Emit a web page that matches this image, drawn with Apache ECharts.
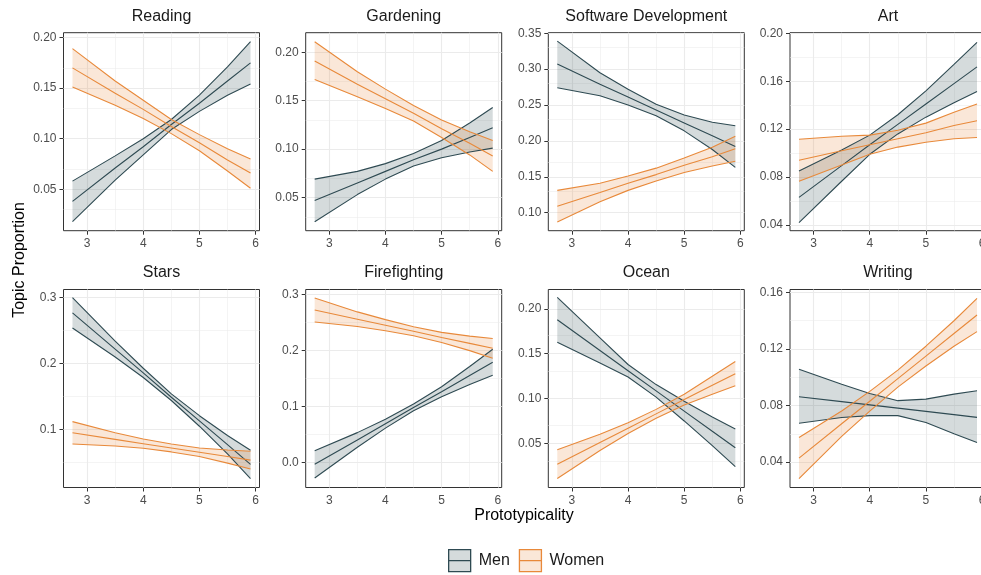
<!DOCTYPE html>
<html><head><meta charset="utf-8">
<script src="https://cdn.jsdelivr.net/npm/echarts@6/dist/echarts.min.js"></script>
<style>html,body{margin:0;padding:0;background:#fff}#c{width:981px;height:575px}</style>
</head><body><div id="c"></div>
<script>
// ---- data ----
const topics = ['Reading','Gardening','Software Development','Art','Stars','Firefighting','Ocean','Writing'];
const xs = [2.74, 3.5, 4.0, 4.5, 5.0, 5.5, 5.91];
const xTicks = [3, 4, 5, 6];
const xMinor = [3.5, 4.5, 5.5];
const xRange = [2.58, 6.07];

const menLow = [
  [0.018, 0.059, 0.084, 0.109, 0.127, 0.143, 0.154],
  [0.025, 0.053, 0.069, 0.0825, 0.091, 0.097, 0.101],
  [0.274, 0.263, 0.250, 0.235, 0.214, 0.188, 0.163],
  [0.042, 0.0765, 0.099, 0.116, 0.130, 0.142, 0.1515],
  [0.254, 0.210, 0.179, 0.144, 0.105, 0.063, 0.0255],
  [-0.028, 0.027, 0.061, 0.092, 0.117, 0.139, 0.1554],
  [0.1628, 0.1396, 0.124, 0.1016, 0.0751, 0.0476, 0.0242],
  [0.0674, 0.0715, 0.0728, 0.0728, 0.068, 0.060, 0.0538]
];
const menMean = [
  [0.038, 0.071, 0.092, 0.114, 0.135, 0.157, 0.175],
  [0.047, 0.065, 0.077, 0.089, 0.100, 0.112, 0.122],
  [0.307, 0.279, 0.261, 0.243, 0.225, 0.207, 0.192],
  [0.063, 0.0895, 0.107, 0.124, 0.141, 0.158, 0.172],
  [0.277, 0.222, 0.186, 0.149, 0.113, 0.077, 0.047],
  [-0.0036, 0.040, 0.069, 0.098, 0.126, 0.155, 0.1786],
  [0.1878, 0.1536, 0.131, 0.1086, 0.0861, 0.0636, 0.0452],
  [0.0862, 0.0827, 0.0804, 0.0781, 0.0758, 0.0735, 0.0716]
];
const menHigh = [
  [0.058, 0.083, 0.100, 0.119, 0.143, 0.171, 0.196],
  [0.069, 0.077, 0.085, 0.0955, 0.109, 0.127, 0.143],
  [0.339, 0.295, 0.272, 0.251, 0.236, 0.226, 0.221],
  [0.085, 0.1025, 0.115, 0.132, 0.152, 0.174, 0.1925],
  [0.300, 0.234, 0.193, 0.154, 0.121, 0.091, 0.0685],
  [0.0208, 0.053, 0.077, 0.104, 0.135, 0.171, 0.2018],
  [0.2128, 0.1676, 0.138, 0.1156, 0.0971, 0.0796, 0.0662],
  [0.1056, 0.095, 0.0885, 0.0834, 0.0845, 0.088, 0.0904]
];
const womenLow = [
  [0.151, 0.133, 0.120, 0.105, 0.088, 0.068, 0.051],
  [0.172, 0.154, 0.142, 0.129, 0.112, 0.094, 0.077],
  [0.087, 0.115, 0.131, 0.144, 0.156, 0.165, 0.1715],
  [0.0765, 0.090, 0.099, 0.105, 0.109, 0.112, 0.113],
  [0.078, 0.075, 0.0715, 0.066, 0.059, 0.049, 0.040],
  [0.2505, 0.2426, 0.2348, 0.226, 0.214, 0.1994, 0.186],
  [0.011, 0.0422, 0.0611, 0.078, 0.0929, 0.1048, 0.1142],
  [0.0282, 0.0581, 0.076, 0.093, 0.1079, 0.1219, 0.1322]
];
const womenMean = [
  [0.170, 0.145, 0.129, 0.112, 0.096, 0.079, 0.066],
  [0.191, 0.167, 0.152, 0.137, 0.121, 0.106, 0.093],
  [0.109, 0.128, 0.141, 0.153, 0.166, 0.178, 0.189],
  [0.094, 0.102, 0.107, 0.112, 0.117, 0.123, 0.127],
  [0.095, 0.085, 0.0785, 0.072, 0.0655, 0.059, 0.0535],
  [0.272, 0.2556, 0.2448, 0.234, 0.223, 0.2124, 0.2036],
  [0.027, 0.0512, 0.0671, 0.083, 0.0989, 0.1148, 0.1278],
  [0.0428, 0.0671, 0.083, 0.099, 0.1149, 0.1309, 0.144]
];
const womenHigh = [
  [0.189, 0.157, 0.138, 0.119, 0.104, 0.090, 0.080],
  [0.211, 0.180, 0.162, 0.145, 0.130, 0.118, 0.109],
  [0.131, 0.141, 0.151, 0.162, 0.176, 0.191, 0.2065],
  [0.1115, 0.114, 0.115, 0.119, 0.125, 0.134, 0.141],
  [0.112, 0.095, 0.0855, 0.078, 0.072, 0.069, 0.067],
  [0.2935, 0.2686, 0.2548, 0.242, 0.232, 0.2254, 0.221],
  [0.043, 0.0602, 0.0731, 0.088, 0.1049, 0.1248, 0.1414],
  [0.0574, 0.0761, 0.090, 0.105, 0.1219, 0.1399, 0.1558]
];
const yRange = [
  [0.009, 0.2048], [0.0157, 0.2203], [0.0748, 0.3508], [0.0352, 0.2005],
  [0.012, 0.3125], [-0.045, 0.3086], [0.001, 0.2215], [0.022, 0.162]
];
const yTicks = [
  [0.05, 0.10, 0.15, 0.20], [0.05, 0.10, 0.15, 0.20], [0.10, 0.15, 0.20, 0.25, 0.30, 0.35], [0.04, 0.08, 0.12, 0.16, 0.20],
  [0.1, 0.2, 0.3], [0.0, 0.1, 0.2, 0.3], [0.05, 0.10, 0.15, 0.20], [0.04, 0.08, 0.12, 0.16]
];
const yMinor = [
  [0.025, 0.075, 0.125, 0.175], [0.025, 0.075, 0.125, 0.175], [0.125, 0.175, 0.225, 0.275, 0.325], [0.06, 0.10, 0.14, 0.18],
  [0.05, 0.15, 0.25], [0.05, 0.15, 0.25], [0.025, 0.075, 0.125, 0.175], [0.06, 0.10, 0.14]
];
const yDecimals = [2, 2, 2, 2, 1, 1, 2, 2];
const groupNames = ['Men', 'Women'];
const xTitle = 'Prototypicality';
const yTitle = 'Topic Proportion';

// ---- layout / style ----
const FONT = '"Liberation Sans", Arial, Helvetica, sans-serif';
const colLeft = [63.5, 305.7, 548.3, 790];
const rowTop = [32.7, 289.5];
const PW = 196, PH = 198;
const LINE = ['#2E4A52', '#E8893A'];
const FILL = ['rgba(46,74,82,0.2)', 'rgba(232,137,58,0.2)'];
const GRID_COLOR = '#ebebeb';

const grids = [], xAxes = [], yAxes = [], series = [], graphics = [];
const pair = arr => xs.map((x, k) => [x, arr[k]]);

topics.forEach((t, i) => {
  const r = Math.floor(i / 4), c = i % 4;
  grids.push({ left: colLeft[c], top: rowTop[r], width: PW, height: PH, show: true,
    outerBoundsMode: 'none', containLabel: false,
    borderColor: '#333333', borderWidth: 1, backgroundColor: 'transparent' });
  xAxes.push({ type: 'value', gridIndex: i, min: xRange[0], max: xRange[1],
    axisLine: { show: false },
    axisTick: { show: true, length: 4, customValues: xTicks, lineStyle: { color: '#333333', width: 1 } },
    axisLabel: { customValues: xTicks, color: '#4d4d4d', fontSize: 12, margin: 7, fontFamily: FONT, hideOverlap: false },
    splitLine: { show: false } });
  yAxes.push({ type: 'value', gridIndex: i, min: yRange[i][0], max: yRange[i][1],
    axisLine: { show: false },
    axisTick: { show: true, length: 4, customValues: yTicks[i], lineStyle: { color: '#333333', width: 1 } },
    axisLabel: { customValues: yTicks[i], color: '#4d4d4d', fontSize: 12, margin: 7, fontFamily: FONT,
      formatter: v => Number(v).toFixed(yDecimals[i]) },
    splitLine: { show: false } });

  // grid lines
  const ml = [];
  xTicks.forEach(v => ml.push({ xAxis: v, lineStyle: { width: 1.1 } }));
  xMinor.forEach(v => ml.push({ xAxis: v, lineStyle: { width: 0.55 } }));
  yTicks[i].forEach(v => ml.push({ yAxis: v, lineStyle: { width: 1.1 } }));
  yMinor[i].forEach(v => ml.push({ yAxis: v, lineStyle: { width: 0.55 } }));
  series.push({ type: 'line', name: 'grid' + i, xAxisIndex: i, yAxisIndex: i, data: [], z: 1, silent: true,
    markLine: { silent: true, symbol: 'none', z: 1, animation: false, label: { show: false },
      lineStyle: { color: GRID_COLOR, type: 'solid' }, data: ml } });

  const lows = [menLow[i], womenLow[i]], highs = [menHigh[i], womenHigh[i]], means = [menMean[i], womenMean[i]];
  // confidence bands (one polygon per group, via the axes' coordinate mapping)
  [0, 1].forEach(g => {
    const lo = lows[g], hi = highs[g];
    series.push({ type: 'custom', name: 'band' + i + g, xAxisIndex: i, yAxisIndex: i,
      data: xs.map((x, k) => [x, lo[k], hi[k]]), encode: { x: 0, y: [1, 2] },
      z: 2, silent: true, animation: false,
      renderItem: (params, api) => {
        if (params.dataIndex !== 0) return null;
        const pts = [];
        for (let k = 0; k < xs.length; k++) pts.push(api.coord([xs[k], lo[k]]));
        for (let k = xs.length - 1; k >= 0; k--) pts.push(api.coord([xs[k], hi[k]]));
        return { type: 'polygon', shape: { points: pts }, style: { fill: FILL[g], stroke: null } };
      } });
  });
  // lines
  [0, 1].forEach(g => {
    [lows[g], means[g], highs[g]].forEach((arr, j) => {
      series.push({ type: 'line', name: j === 1 ? groupNames[g] : ('ln' + i + g + j), xAxisIndex: i, yAxisIndex: i,
        data: pair(arr), symbol: 'none', lineStyle: { color: LINE[g], width: 1.1 }, itemStyle: { color: LINE[g] },
        z: 3 + g, silent: true, animation: false });
    });
  });

  graphics.push({ type: 'text', x: colLeft[c] + PW / 2, y: rowTop[r] - 16.5,
    style: { text: t, fill: '#1a1a1a', font: '16px ' + FONT, align: 'center', verticalAlign: 'middle' } });
});

graphics.push({ type: 'text', x: 524, y: 516,
  style: { text: xTitle, fill: '#000000', font: '16px ' + FONT, align: 'center', verticalAlign: 'middle' } });
graphics.push({ type: 'text', x: 20, y: 260, rotation: Math.PI / 2,
  style: { text: yTitle, fill: '#000000', font: '16px ' + FONT, align: 'center', verticalAlign: 'middle' } });

const iconPath = 'path://M0,0L22,0L22,22L0,22ZM0,11L22,11';
const chart = echarts.init(document.getElementById('c'));
chart.setOption({
  animation: false,
  backgroundColor: '#ffffff',
  grid: grids, xAxis: xAxes, yAxis: yAxes, series,
  graphic: graphics,
  legend: {
    left: 448, top: 549, padding: 0, itemWidth: 22, itemHeight: 22, itemGap: 9, selectedMode: false,
    textStyle: { fontSize: 16, color: '#1a1a1a', fontFamily: FONT, padding: [0, 0, 0, 3] },
    data: groupNames.map((n, g) => ({ name: n, icon: iconPath,
      itemStyle: { color: FILL[g], borderColor: LINE[g], borderWidth: 1.3, opacity: 1 } }))
  }
});
</script>
</body></html>
